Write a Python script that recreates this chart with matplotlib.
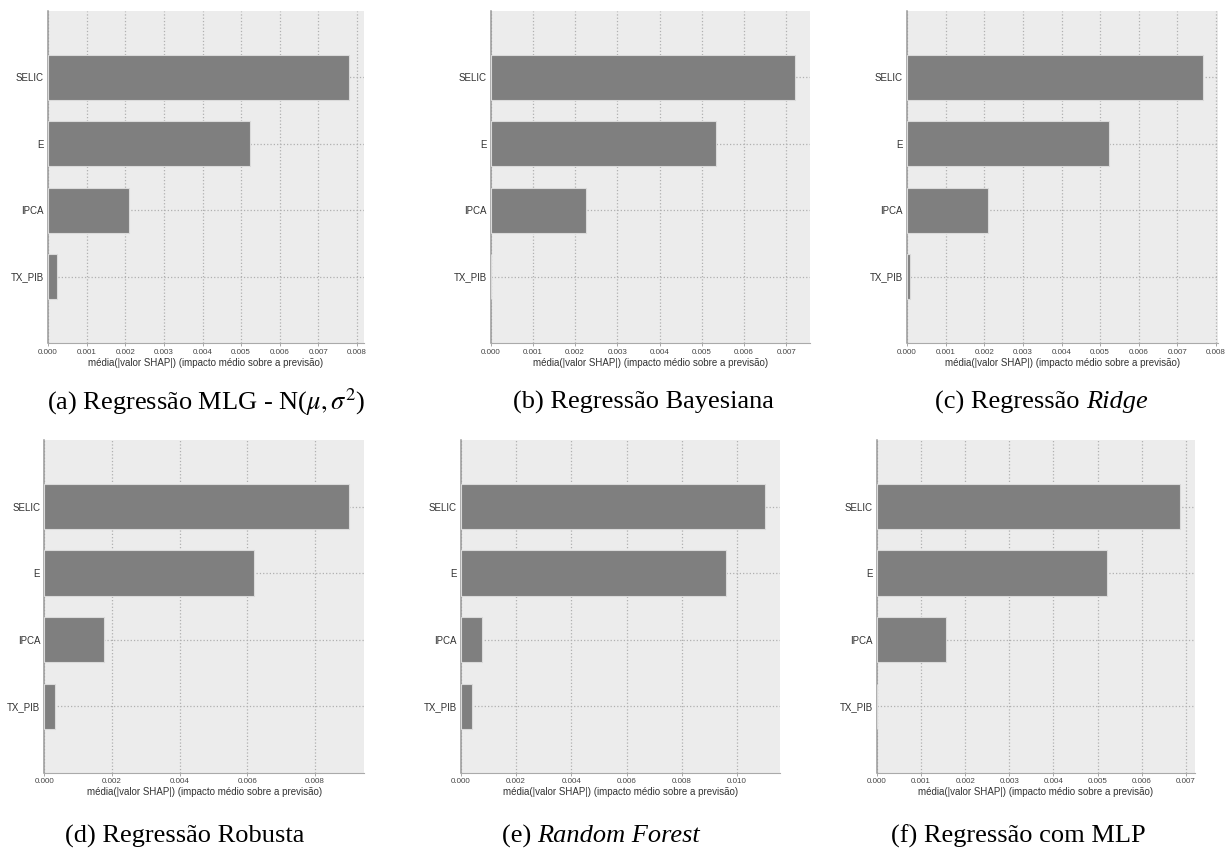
import matplotlib
matplotlib.use("Agg")
import matplotlib.pyplot as plt
from matplotlib.ticker import FormatStrFormatter, MultipleLocator

plt.rcParams["mathtext.fontset"] = "stix"

features = ["SELIC", "E", "IPCA", "TX_PIB"]

shap_mlg = [0.00779, 0.00522, 0.00209, 0.000226]
shap_bayes = [0.00720, 0.00533, 0.00225, 0.00001]
shap_ridge = [0.00766, 0.00523, 0.00209, 0.00007]
shap_robusta = [0.00900, 0.00619, 0.00177, 0.00033]
shap_rf = [0.01099, 0.00959, 0.00077, 0.00041]
shap_mlp = [0.00686, 0.00521, 0.00156, 0.00001]

xlabel_text = "média(|valor SHAP|) (impacto médio sobre a previsão)"

panels = [
    (shap_mlg, 0.001, [48, 364, 11, 343]),
    (shap_bayes, 0.001, [490.7, 810, 11, 343]),
    (shap_ridge, 0.001, [907, 1217.7, 11, 343]),
    (shap_robusta, 0.002, [44.3, 364, 440, 772.7]),
    (shap_rf, 0.002, [460.7, 779.7, 440, 772.7]),
    (shap_mlp, 0.001, [877, 1194.7, 440, 772.7]),
]

W, H = 1226, 852
fig = plt.figure(figsize=(W / 100, H / 100), dpi=100)

for vals, step, (l, r, t, b) in panels:
    ax = fig.add_axes([l / W, 1 - b / H, (r - l) / W, (b - t) / H])
    ax.set_facecolor("#ececec")
    ypos = list(range(len(features)))[::-1]
    ax.barh(ypos, vals, height=0.68, color="#7f7f7f", edgecolor="#dadada",
            linewidth=0.8, zorder=3)
    ax.set_ylim(-1, len(features))
    ax.set_yticks(ypos)
    ax.set_yticklabels(features, fontsize=7.0, family="Liberation Sans", color="#333333")
    ax.xaxis.set_major_locator(MultipleLocator(step))
    ax.xaxis.set_major_formatter(FormatStrFormatter("%.3f"))
    ax.tick_params(axis="y", length=0, pad=3)
    ax.tick_params(axis="x", length=2.5, width=0.6, color="#999999", pad=1.5,
                   labelsize=5.8, labelcolor="#444444")
    for lab in ax.get_xticklabels():
        lab.set_family("Liberation Sans")
    ax.set_xlabel(xlabel_text, fontsize=7.0, family="Liberation Sans", color="#333333", labelpad=1.5)
    ax.grid(True, axis="both", linestyle=":", color="#b0b0b0", linewidth=0.9, zorder=0)
    ax.set_axisbelow(True)
    for s in ["top", "right"]:
        ax.spines[s].set_visible(False)
    ax.spines["left"].set_color("#999999")
    ax.spines["left"].set_linewidth(1.1)
    ax.spines["left"].set_zorder(2)
    ax.spines["bottom"].set_color("#aaaaaa")
    ax.spines["bottom"].set_linewidth(0.8)

serif = "Liberation Serif"
cap_fs = 19
row1_y = 1 - 402 / H
row2_y = 1 - 836 / H

fig.text(206 / W, row1_y, r"(a) Regressão MLG - N($\mu, \sigma^2$)", ha="center", va="center",
         fontsize=cap_fs, family=serif)
fig.text(643 / W, row1_y, "(b) Regressão Bayesiana", ha="center", va="center",
         fontsize=cap_fs, family=serif)
fig.text(185 / W, row2_y, "(d) Regressão Robusta", ha="center", va="center",
         fontsize=cap_fs, family=serif)
fig.text(1018 / W, row2_y, "(f) Regressão com MLP", ha="center", va="center",
         fontsize=cap_fs, family=serif)


def mixed_caption(x_center, y, normal, italic):
    t1 = fig.text(0, y, normal, ha="left", va="center", fontsize=cap_fs, family=serif)
    t2 = fig.text(0, y, italic, ha="left", va="center", fontsize=cap_fs, family=serif,
                  style="italic")
    fig.canvas.draw()
    r = fig.canvas.get_renderer()
    w1 = t1.get_window_extent(r).width
    w2 = t2.get_window_extent(r).width
    x0 = x_center - (w1 + w2) / 2
    t1.set_x(x0 / W)
    t2.set_x((x0 + w1) / W)


mixed_caption(1041, row1_y, "(c) Regressão ", "Ridge")
mixed_caption(601, row2_y, "(e) ", "Random Forest")

fig.savefig("out.png", dpi=100)
